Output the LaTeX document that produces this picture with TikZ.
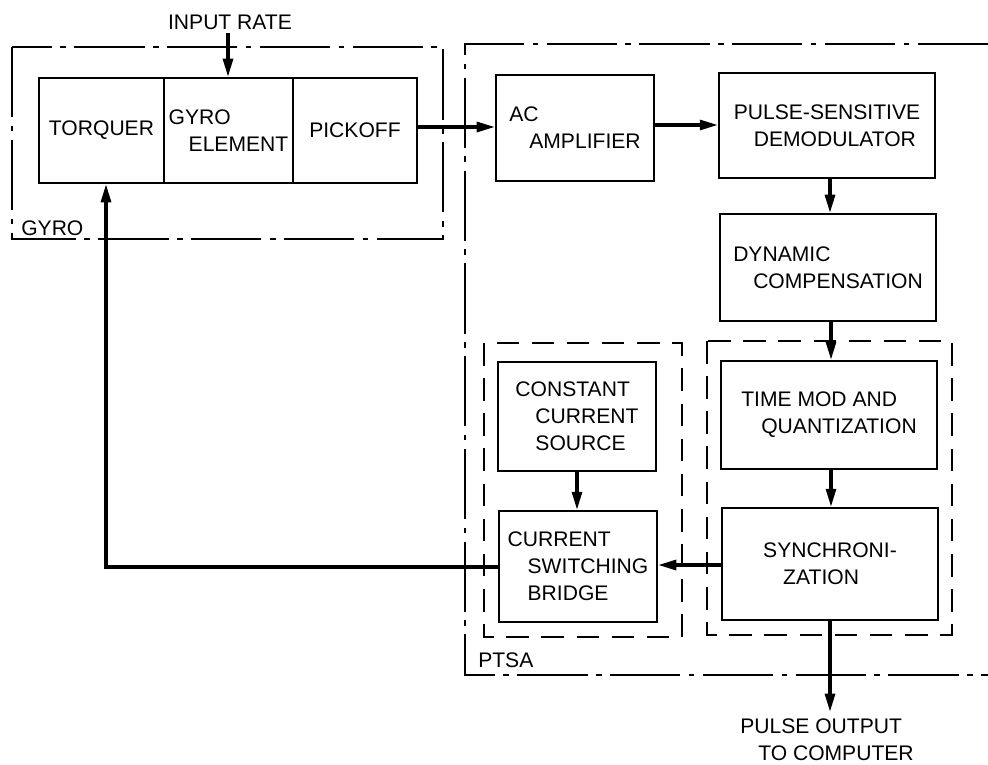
\documentclass[tikz,border=0pt]{standalone}
\usepackage{fontspec}
\setmainfont{Liberation Sans}
\usetikzlibrary{arrows.meta}
\newdimen\px \px=0.25mm
\newcommand\ind{\hspace*{20\px}}
\begin{document}
\begin{tikzpicture}[x=0.25mm,y=-0.25mm,
  txt/.style={font=\fontsize{15}{19.2}\selectfont},
  box/.style={draw,line width=1.4pt,rectangle,inner sep=0pt,align=left,txt},
  lbl/.style={inner sep=0pt,align=left,txt},
  flow/.style={line width=2.4pt,-{Triangle[length=13pt,width=7pt]}},
  wire/.style={line width=2.4pt},
  dashdot/.style={line width=1.3pt,dash pattern=on 50pt off 6pt on 4pt off 6pt},
  dashbox/.style={line width=1.3pt,dash pattern=on 16pt off 9pt}]
\useasboundingbox (0,0) rectangle (988,764);

% enclosures
\draw[dashdot] (12,47) rectangle (443,239);
\draw[dashdot] (988,44) -- (465,44) -- (465,675) -- (988,675);
\draw[dashbox] (484,343) rectangle (682,637);
\draw[dashbox] (707,341) rectangle (952,635);
\node[lbl,anchor=west] (gyrolbl) at (21,228) {GYRO};
\node[lbl,anchor=west] (ptsalbl) at (478,660) {PTSA};

% gyro blocks
\node[box,minimum width=125\px,minimum height=105\px] (torq) at (101.5,130.5) {TORQUER};
\node[box,minimum width=129\px,minimum height=105\px] (gyroel) at (228.5,130.5) {GYRO\\\ind ELEMENT};
\node[box,minimum width=124\px,minimum height=105\px] (pick) at (355,130.5) {PICKOFF};

% PTSA blocks
\node[box,minimum width=158\px,minimum height=106\px] (ac) at (575,128) {AC\\\ind AMPLIFIER};
\node[box,minimum width=216\px,minimum height=105\px] (demod) at (827,125.5) {PULSE-SENSITIVE\\\ind DEMODULATOR};
\node[box,minimum width=216\px,minimum height=107\px] (dyn) at (828,267.5) {DYNAMIC\\\ind COMPENSATION};
\node[box,minimum width=216\px,minimum height=108\px] (tmod) at (829,415) {TIME MOD AND\\\ind QUANTIZATION};
\node[box,minimum width=216\px,minimum height=112\px] (sync) at (830,564) {SYNCHRONI-\\\ind ZATION};
\node[box,minimum width=158\px,minimum height=109\px] (ccs) at (577,416.5) {CONSTANT\\\ind CURRENT\\\ind SOURCE};
\node[box,minimum width=158\px,minimum height=111\px] (bridge) at (578,566.5) {CURRENT\\\ind SWITCHING\\\ind BRIDGE};

% external labels
\node[lbl] (inrate) at (230,22) {INPUT RATE};
\coordinate (inrateend) at (228,33);
\node[lbl] (outtxt) at (827,740) {PULSE OUTPUT\\\hspace*{18\px}TO COMPUTER};
\coordinate (outend) at (830,712);
\coordinate (fbcorner) at (106,567);

% connectors
\draw[flow] (inrateend) -- (inrateend |- gyroel.north);
\draw[flow] (ac.west -| pick.east) ++(0,-1) -- ([yshift=0.25mm]ac.west);
\draw[flow] (ac.east |- 0,125) -- (demod.west |- 0,125);
\draw[flow] (demod.south -| 830,0) -- (dyn.north -| 830,0);
\draw[flow] (dyn.south -| 831,0) -- (tmod.north -| 831,0);
\draw[flow] (tmod.south -| 831,0) -- (sync.north -| 831,0);
\draw[flow] (ccs.south) -- (ccs.south |- bridge.north);
\draw[flow] (sync.west |- 0,565) -- (bridge.east |- 0,565);
\draw[flow] (sync.south -| outend) -- (outend);
\draw[flow] (bridge.west |- fbcorner) -- (fbcorner) -- (fbcorner |- torq.south);
\end{tikzpicture}
\end{document}
